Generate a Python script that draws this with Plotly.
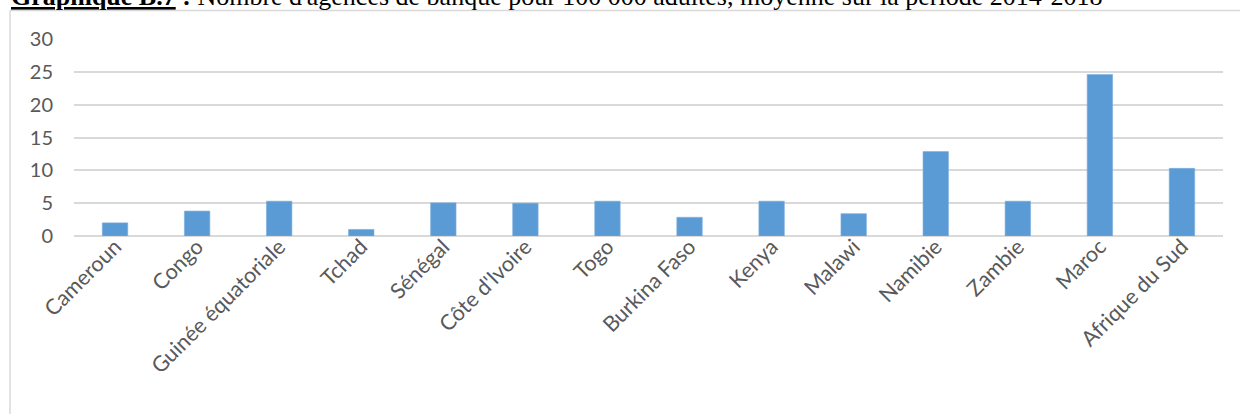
import plotly.graph_objects as go

countries = ["Cameroun", "Congo", "Guinée équatoriale", "Tchad", "Sénégal", "Côte d'Ivoire",
             "Togo", "Burkina Faso", "Kenya", "Malawi", "Namibie", "Zambie", "Maroc", "Afrique du Sud"]
agences = [2.0, 3.8, 5.3, 1.0, 5.05, 5.0, 5.3, 2.85, 5.3, 3.4, 12.85, 5.3, 24.6, 10.3]
y_ticks = [0, 5, 10, 15, 20, 25, 30]
title_text = ("<b><u>Graphique B.7</u> :</b> Nombre d'agences de banque pour 100 000 adultes, "
              "moyenne sur la période 2014-2018")

W, H = 1240, 414
L, R, T, B = 74, 17, 39, 177.5
pw, ph = W - L - R, H - T - B

def px_x(x):
    return (x - L) / pw

def px_y(y):
    return (H - B - y) / ph

fig = go.Figure(go.Bar(
    x=countries, y=agences,
    marker=dict(color="#5B9BD5", line=dict(color="#7AAFE0", width=0.6)),
))

fig.update_layout(
    width=W, height=H,
    margin=dict(l=L, r=R, t=T, b=B, autoexpand=False),
    paper_bgcolor="white", plot_bgcolor="white",
    bargap=0.69,
    showlegend=False,
    font=dict(family="Lato", color="#595959", size=20),
    xaxis=dict(tickangle=-45, showgrid=False, showline=False, ticks="",
               ticklabelstandoff=-7,
               tickfont=dict(size=21.5, color="#595959")),
    yaxis=dict(range=[0, 30], tickvals=y_ticks, showgrid=True, gridcolor="#d9d9d9",
               gridwidth=1.5, zeroline=True, zerolinecolor="#d9d9d9", zerolinewidth=1.5,
               showline=False, ticks="", ticklabelstandoff=20,
               tickfont=dict(size=20, color="#595959")),
    shapes=[
        dict(type="line", xref="paper", yref="paper", x0=px_x(10), x1=px_x(10),
             y0=px_y(420), y1=px_y(10.5), line=dict(color="#d9d9d9", width=1.5)),
        dict(type="line", xref="paper", yref="paper", x0=px_x(10), x1=px_x(1245),
             y0=px_y(10.5), y1=px_y(10.5), line=dict(color="#d9d9d9", width=1.5)),
    ],
    annotations=[
        dict(text=title_text, xref="paper", yref="paper", x=px_x(9), y=px_y(13),
             xanchor="left", yanchor="bottom", showarrow=False,
             font=dict(family="Liberation Serif", size=26, color="black")),
    ],
)

fig.write_html("out.html", config={"displayModeBar": False},
               post_script="document.body.style.margin='0';document.body.style.padding='0';")
